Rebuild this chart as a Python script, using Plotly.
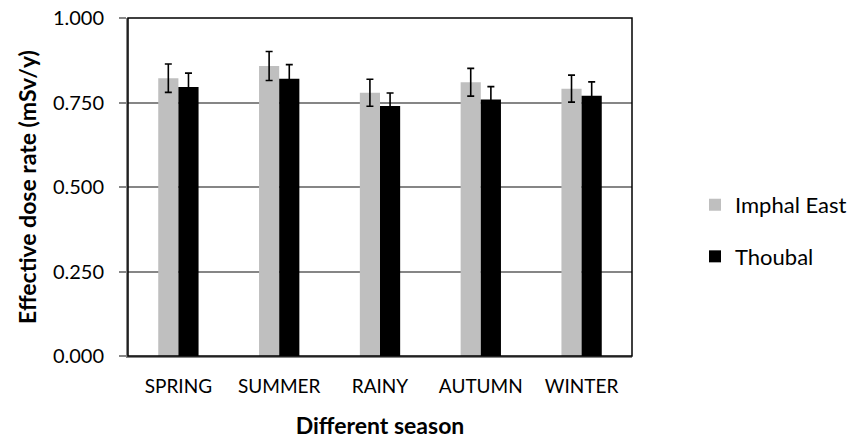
import plotly.graph_objects as go

seasons = ["SPRING", "SUMMER", "RAINY", "AUTUMN", "WINTER"]
imphal_east = [0.822, 0.858, 0.779, 0.810, 0.791]
imphal_east_err = [0.042, 0.043, 0.040, 0.041, 0.040]
thoubal = [0.796, 0.820, 0.740, 0.759, 0.770]
thoubal_err = [0.041, 0.042, 0.038, 0.038, 0.041]
y_ticks = [0.0, 0.25, 0.5, 0.75, 1.0]

FONT = "Lato"

fig = go.Figure()
fig.add_trace(go.Bar(
    name="Imphal East", x=seasons, y=imphal_east,
    marker=dict(color="#bfbfbf", line=dict(width=0)),
    error_y=dict(type="data", array=imphal_east_err, color="black", thickness=1.6, width=3.5),
    legendgroup="a",
))
fig.add_trace(go.Bar(
    name="Thoubal", x=seasons, y=thoubal,
    marker=dict(color="black", line=dict(width=0)),
    error_y=dict(type="data", array=thoubal_err, color="black", thickness=1.6, width=3.5),
    legendgroup="b",
))

fig.update_layout(
    width=861, height=443,
    margin=dict(l=128, r=229, t=18, b=87, autoexpand=False),
    paper_bgcolor="white", plot_bgcolor="white",
    barmode="group", bargap=0.6, bargroupgap=0,
    font=dict(family=FONT, size=19, color="black"),
    showlegend=True,
    legend=dict(
        x=1.125, xanchor="left", y=0.37, yanchor="middle",
        font=dict(family=FONT, size=22, color="black"),
        traceorder="grouped", tracegroupgap=20,
        itemwidth=30,
    ),
    xaxis=dict(
        showline=True, linecolor="#868686", linewidth=2,
        ticks="", tickfont=dict(size=19), ticklabelstandoff=12,
        title=dict(text="<b>Different season</b>", font=dict(size=23), standoff=22),
    ),
    yaxis=dict(
        range=[0, 1.0], tickvals=y_ticks, tickformat=".3f",
        showline=True, linecolor="#868686", linewidth=2,
        showgrid=True, gridcolor="#868686", gridwidth=2,
        ticks="outside", ticklen=7, tickcolor="#868686", tickwidth=2,
        tickfont=dict(size=20), ticklabelstandoff=11,
        title=dict(text="<b>Effective dose rate (mSv/y)</b>", font=dict(size=23), standoff=10),
        zeroline=False,
    ),
    shapes=[dict(type="rect", xref="paper", yref="paper", x0=0, x1=1, y0=0, y1=1,
                 line=dict(color="black", width=1.5), layer="above")],
)

fig.write_html("out.html", config={"displayModeBar": False},
               post_script="document.body.style.margin='0';")
